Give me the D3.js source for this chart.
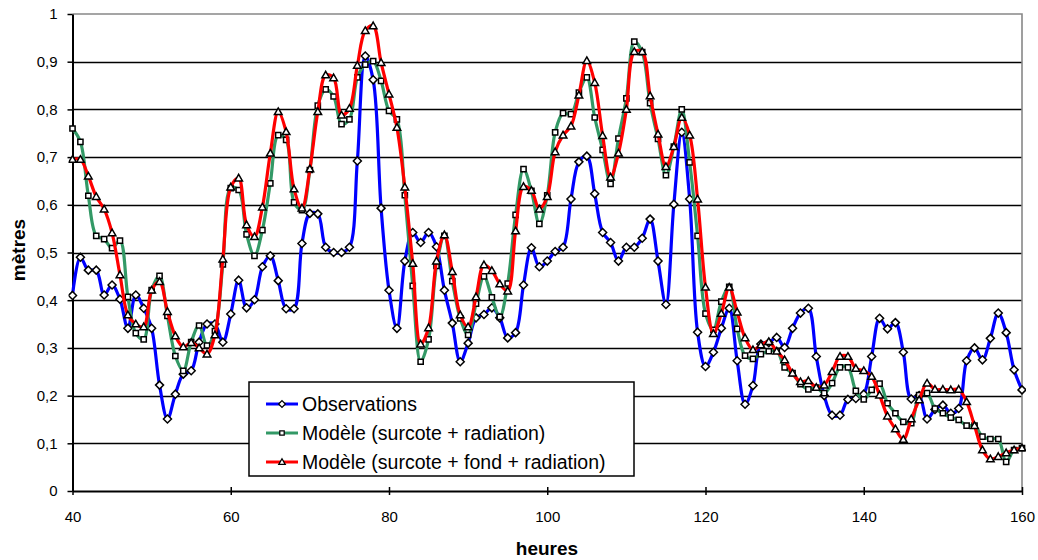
<!DOCTYPE html>
<html><head><meta charset="utf-8">
<script src="https://cdn.jsdelivr.net/npm/d3@7"></script>
<style>body{margin:0;background:#fff}svg{display:block}text{font-family:Arial,"Liberation Sans",sans-serif}</style>
</head><body><svg id="c" width="1038" height="560"></svg>
<script>
const hours = d3.range(40, 161);
const yTicks = [0,0.1,0.2,0.3,0.4,0.5,0.6,0.7,0.8,0.9,1];
const xTicks = [40,60,80,100,120,140,160];
const seriesNames = ["Observations","Modèle (surcote + radiation)","Modèle (surcote + fond + radiation)"];
const observations = [
0.41,0.49,0.463,0.463,0.411,0.432,0.402,0.341,0.411,0.383,
0.341,0.222,0.151,0.203,0.245,0.252,0.312,0.35,0.35,0.312,
0.371,0.442,0.384,0.401,0.470,0.493,0.441,0.382,0.382,0.519,
0.582,0.581,0.511,0.50,0.50,0.511,0.692,0.912,0.862,0.593,
0.421,0.341,0.482,0.542,0.521,0.542,0.512,0.421,0.352,0.271,
0.310,0.363,0.370,0.384,0.363,0.321,0.332,0.432,0.510,0.470,
0.482,0.502,0.511,0.612,0.690,0.702,0.623,0.542,0.521,0.482,
0.511,0.511,0.530,0.570,0.482,0.391,0.601,0.752,0.612,0.333,
0.261,0.291,0.341,0.383,0.273,0.182,0.221,0.308,0.311,0.322,
0.301,0.341,0.373,0.383,0.282,0.200,0.159,0.159,0.192,0.194,
0.203,0.282,0.362,0.340,0.353,0.291,0.193,0.200,0.151,0.171,
0.180,0.163,0.173,0.273,0.300,0.275,0.320,0.373,0.332,0.254,
0.212];
const modeleRadiation = [
0.760,0.732,0.619,0.535,0.528,0.509,0.525,0.407,0.331,0.318,
0.421,0.451,0.367,0.283,0.252,0.312,0.347,0.305,0.335,0.475,
0.635,0.631,0.538,0.493,0.547,0.645,0.746,0.736,0.605,0.589,
0.673,0.808,0.842,0.827,0.769,0.779,0.867,0.894,0.901,0.860,
0.797,0.779,0.620,0.430,0.271,0.318,0.472,0.535,0.440,0.362,
0.327,0.393,0.450,0.406,0.365,0.435,0.579,0.675,0.629,0.560,
0.620,0.752,0.792,0.790,0.835,0.867,0.783,0.715,0.644,0.739,
0.823,0.942,0.920,0.813,0.738,0.662,0.722,0.800,0.689,0.535,
0.372,0.338,0.397,0.428,0.340,0.284,0.277,0.287,0.293,0.294,
0.259,0.247,0.224,0.213,0.217,0.205,0.226,0.259,0.259,0.210,
0.192,0.212,0.225,0.184,0.163,0.145,0.142,0.201,0.205,0.173,
0.163,0.154,0.149,0.137,0.137,0.114,0.109,0.109,0.061,0.086,
0.090];
const modeleFond = [
0.695,0.695,0.660,0.617,0.591,0.541,0.453,0.369,0.350,0.344,
0.421,0.439,0.376,0.325,0.302,0.311,0.300,0.287,0.327,0.486,
0.637,0.656,0.558,0.533,0.595,0.708,0.795,0.753,0.633,0.593,
0.675,0.795,0.872,0.866,0.788,0.802,0.892,0.965,0.975,0.898,
0.832,0.762,0.637,0.477,0.308,0.342,0.482,0.537,0.460,0.369,
0.344,0.407,0.474,0.462,0.434,0.419,0.545,0.638,0.630,0.591,
0.617,0.711,0.746,0.765,0.830,0.902,0.856,0.745,0.658,0.708,
0.800,0.921,0.921,0.828,0.748,0.680,0.722,0.783,0.746,0.612,
0.427,0.330,0.372,0.427,0.375,0.321,0.296,0.306,0.313,0.293,
0.275,0.247,0.229,0.231,0.217,0.222,0.250,0.282,0.282,0.257,
0.252,0.240,0.201,0.157,0.130,0.108,0.151,0.191,0.226,0.213,
0.213,0.212,0.213,0.187,0.137,0.086,0.067,0.072,0.080,0.086,
0.090];

const colors = ["#0000FF","#339966","#FF0000"];
const markerPaths = [
  "M0,-4L4,0L0,4L-4,0Z",
  "M-2.6,-2.6H2.6V2.6H-2.6Z",
  "M0,-3.8L3.8,2.8H-3.8Z"
];
const L = 72.5, R = 1022, T = 14, B = 491;
const svg = d3.select("#c");
const x = d3.scaleLinear().domain([40,160]).range([L,R]);
const y = d3.scaleLinear().domain([0,1]).range([B,T]);
const fmt = d => d === 0 ? "0" : d === 1 ? "1" : d3.format(".1f")(d).replace(".", ",");

// gridlines
svg.append("g").selectAll("line").data(yTicks.filter(v => v > 0 && v < 1)).join("line")
  .attr("x1", L).attr("x2", R).attr("y1", d => Math.round(y(d)) + 0.5).attr("y2", d => Math.round(y(d)) + 0.5)
  .attr("stroke", "#000").attr("stroke-width", 1.3);
// plot border (top/right grey)
svg.append("path").attr("d", `M${L},${T}H${R}V${B}`).attr("fill","none").attr("stroke","#888").attr("stroke-width",1.6);

// axes
const yAxis = svg.append("g").attr("transform", `translate(${L},0)`)
  .call(d3.axisLeft(y).tickValues(yTicks).tickFormat(fmt).tickSizeInner(5).tickSizeOuter(0).tickPadding(10));
const xAxis = svg.append("g").attr("transform", `translate(0,${B})`)
  .call(d3.axisBottom(x).tickValues(xTicks).tickFormat(d3.format("d")).tickSizeInner(4).tickSizeOuter(0).tickPadding(16));
xAxis.selectAll(".tick line").attr("y1", -4).attr("y2", 4);
[yAxis, xAxis].forEach(a => {
  a.select(".domain").attr("stroke", "#000").attr("stroke-width", 2);
  a.selectAll(".tick line").attr("stroke", "#000").attr("stroke-width", 1.5);
  a.selectAll("text").attr("font-size", 15).attr("fill", "#000").attr("font-family", "Arial, 'Liberation Sans', sans-serif");
});

// axis titles
svg.append("text").attr("x", 547).attr("y", 555).attr("text-anchor","middle")
  .attr("font-size", 19).attr("font-weight","bold").text("heures");
svg.append("text").attr("transform","translate(25,250) rotate(-90)").attr("text-anchor","middle")
  .attr("font-size", 19).attr("font-weight","bold").text("mètres");

// clip
svg.append("clipPath").attr("id","clip").append("rect").attr("x", L-4).attr("y", 0).attr("width", R-L+8).attr("height", B+4);

const allSeries = [observations, modeleRadiation, modeleFond];
const line = d3.line().x(d => x(d[0])).y(d => y(d[1])).curve(d3.curveCatmullRom.alpha(0.5));
const plot = svg.append("g").attr("clip-path","url(#clip)");
allSeries.forEach((vals, i) => {
  const pts = hours.map((h, k) => [h, vals[k]]);
  const g = plot.append("g");
  g.append("path").datum(pts).attr("d", line).attr("fill","none").attr("stroke", colors[i])
    .attr("stroke-width", 3.2).attr("stroke-linejoin","round");
  g.selectAll("path.m").data(pts).join("path").attr("class","m")
    .attr("transform", d => `translate(${x(d[0])},${y(d[1])})`).attr("d", markerPaths[i])
    .attr("fill","#fff").attr("stroke","#000").attr("stroke-width",1.5);
});

// legend
const lg = svg.append("g");
lg.append("rect").attr("x", 249).attr("y", 382).attr("width", 385).attr("height", 94)
  .attr("fill","#fff").attr("stroke","#000").attr("stroke-width",1.5);
const rowsY = [404, 433, 462];
seriesNames.forEach((n, i) => {
  lg.append("line").attr("x1", 266).attr("x2", 298).attr("y1", rowsY[i]).attr("y2", rowsY[i])
    .attr("stroke", colors[i]).attr("stroke-width", 3);
  lg.append("path").attr("transform", `translate(282,${rowsY[i]}) scale(0.85)`).attr("d", markerPaths[i])
    .attr("fill","#fff").attr("stroke","#000").attr("stroke-width",1.5);
  lg.append("text").attr("x", 302).attr("y", rowsY[i] + 7).attr("font-size", 19.5).text(n);
});
</script></body></html>
